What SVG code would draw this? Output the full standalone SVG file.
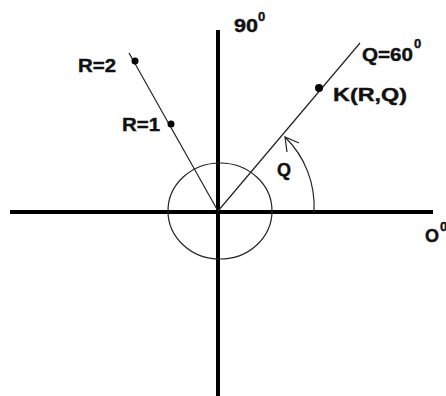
<svg xmlns="http://www.w3.org/2000/svg" width="446" height="396" viewBox="0 0 446 396">
<style>
.axis{stroke:#000;stroke-width:4;fill:none}
.thin{stroke:#222;stroke-width:1.2;fill:none}
.dot{fill:#000}
text{font-family:"Liberation Sans",Arial,sans-serif;font-weight:bold;font-size:18px;fill:#111;stroke:#111;stroke-width:0.4}
.sup{font-size:13px}
</style>
<rect width="446" height="396" fill="#fff"/>
<g id="connectors">
<line class="axis" x1="10" y1="212" x2="433" y2="212"/>
<line class="axis" x1="218" y1="30" x2="218" y2="396"/>
<ellipse class="thin" cx="220" cy="211" rx="52" ry="48"/>
<line class="thin" x1="218" y1="211" x2="129" y2="53"/>
<line class="thin" x1="218" y1="211" x2="360" y2="43"/>
<path class="thin" d="M314,212 A97,97 0 0 0 285,137"/>
<path class="thin" d="M299,143 L285,137 L287,152"/>
</g>
<g id="dot-r2"><circle class="dot" cx="135" cy="61" r="3.5"/></g>
<g id="dot-r1"><circle class="dot" cx="171" cy="124" r="3.5"/></g>
<g id="dot-k"><circle class="dot" cx="319" cy="88" r="4"/></g>
<g id="label-90"><text x="234" y="32" textLength="24" lengthAdjust="spacingAndGlyphs">90</text><text class="sup" x="258" y="21">0</text></g>
<g id="label-r2"><text x="78" y="72" textLength="38" lengthAdjust="spacingAndGlyphs">R=2</text></g>
<g id="label-r1"><text x="122" y="131" textLength="38" lengthAdjust="spacingAndGlyphs">R=1</text></g>
<g id="label-q60"><text x="362" y="61" textLength="51" lengthAdjust="spacingAndGlyphs">Q=60</text><text class="sup" x="414" y="48">0</text></g>
<g id="label-k"><text x="333" y="101" textLength="74" lengthAdjust="spacingAndGlyphs">K(R,Q)</text></g>
<g id="label-q"><text x="277" y="176" font-size="20">Q</text></g>
<g id="label-0"><text x="425" y="242">O</text><text class="sup" x="440" y="231">0</text></g>
</svg>
